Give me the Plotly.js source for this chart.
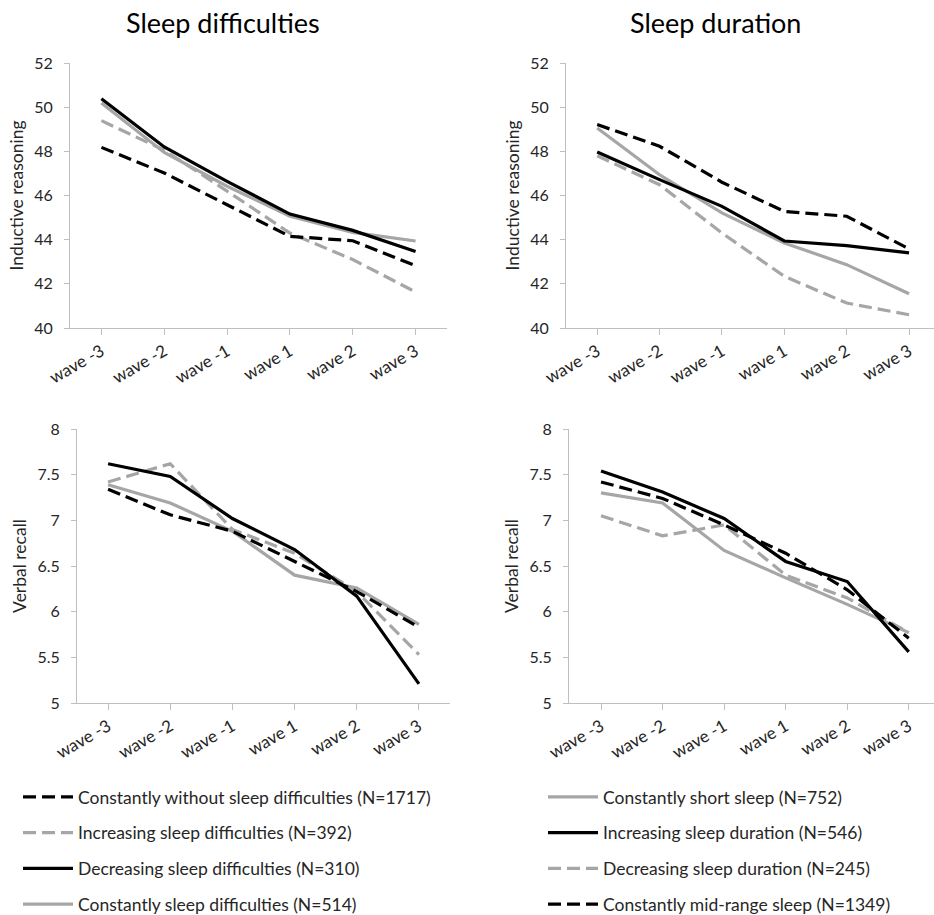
<!DOCTYPE html>
<html>
<head>
<meta charset="utf-8">
<script src="https://cdn.plot.ly/plotly-3.0.1.min.js"></script>
<style>html,body{margin:0;padding:0;background:#fff;}#chart{width:934px;height:915px;}</style>
</head>
<body>
<div id="chart"></div>
<script>
// ---------- data ----------
const waves = ['wave -3', 'wave -2', 'wave -1', 'wave 1', 'wave 2', 'wave 3'];

const panelTitles = ['Sleep difficulties', 'Sleep duration'];
const yTitles = ['Inductive reasoning', 'Verbal recall'];
const reasonTicks = [40, 42, 44, 46, 48, 50, 52];
const recallTicks = [5, 5.5, 6, 6.5, 7, 7.5, 8];
const recallTickText = ['5', '5.5', '6', '6.5', '7', '7.5', '8'];

const diffNames = [
  'Constantly without sleep difficulties (N=1717)',
  'Increasing sleep difficulties (N=392)',
  'Decreasing sleep difficulties (N=310)',
  'Constantly sleep difficulties (N=514)'
];
const durNames = [
  'Constantly short sleep (N=752)',
  'Increasing sleep duration (N=546)',
  'Decreasing sleep duration (N=245)',
  'Constantly mid-range sleep (N=1349)'
];

// Sleep difficulties – inductive reasoning
const diffReasonWithout    = [48.18, 47.02, 45.58, 44.15, 43.95, 42.82];
const diffReasonIncreasing = [49.39, 48.05, 46.20, 44.30, 43.10, 41.63];
const diffReasonDecreasing = [50.38, 48.20, 46.64, 45.16, 44.42, 43.46];
const diffReasonConstant   = [50.19, 47.95, 46.42, 45.06, 44.33, 43.94];

// Sleep difficulties – verbal recall
const diffRecallWithout    = [7.34, 7.06, 6.88, 6.55, 6.22, 5.83];
const diffRecallIncreasing = [7.42, 7.62, 6.90, 6.64, 6.22, 5.53];
const diffRecallDecreasing = [7.62, 7.48, 7.02, 6.68, 6.17, 5.21];
const diffRecallConstant   = [7.39, 7.19, 6.88, 6.40, 6.26, 5.86];

// Sleep duration – inductive reasoning
const durReasonShort      = [49.06, 46.94, 45.21, 43.85, 42.87, 41.55];
const durReasonIncreasing = [47.97, 46.72, 45.51, 43.94, 43.73, 43.40];
const durReasonDecreasing = [47.80, 46.49, 44.30, 42.34, 41.13, 40.60];
const durReasonMid        = [49.21, 48.23, 46.60, 45.28, 45.06, 43.58];

// Sleep duration – verbal recall
const durRecallShort      = [7.30, 7.19, 6.67, 6.37, 6.08, 5.77];
const durRecallIncreasing = [7.54, 7.31, 7.02, 6.55, 6.33, 5.56];
const durRecallDecreasing = [7.05, 6.83, 6.95, 6.40, 6.15, 5.77];
const durRecallMid        = [7.42, 7.24, 6.95, 6.64, 6.24, 5.71];

// ---------- styles ----------
const BLACK = '#000000';
const GREY = '#a6a6a6';
const AXIS = '#bfbfbf';
const FONT = 'Lato, "Open Sans", sans-serif';
const DASH = '13px,6px';
const W = 3.2;

function tr(y, name, color, dash, xa, ya, legend, show, rank) {
  return {
    x: waves, y: y, name: name, type: 'scatter', mode: 'lines',
    line: {color: color, width: W, dash: dash},
    xaxis: xa, yaxis: ya, legend: legend, showlegend: show,
    legendgroup: name, legendrank: rank, hoverinfo: 'skip'
  };
}

const data = [
  // top-left
  tr(diffReasonConstant,   diffNames[3], GREY,  'solid', 'x',  'y',  'legend', true, 4),
  tr(diffReasonIncreasing, diffNames[1], GREY,  DASH,    'x',  'y',  'legend', true, 2),
  tr(diffReasonWithout,    diffNames[0], BLACK, DASH,    'x',  'y',  'legend', true, 1),
  tr(diffReasonDecreasing, diffNames[2], BLACK, 'solid', 'x',  'y',  'legend', true, 3),
  // bottom-left
  tr(diffRecallConstant,   diffNames[3], GREY,  'solid', 'x3', 'y3', 'legend', false, 4),
  tr(diffRecallIncreasing, diffNames[1], GREY,  DASH,    'x3', 'y3', 'legend', false, 2),
  tr(diffRecallWithout,    diffNames[0], BLACK, DASH,    'x3', 'y3', 'legend', false, 1),
  tr(diffRecallDecreasing, diffNames[2], BLACK, 'solid', 'x3', 'y3', 'legend', false, 3),
  // top-right
  tr(durReasonShort,       durNames[0], GREY,  'solid', 'x2', 'y2', 'legend2', true, 1),
  tr(durReasonDecreasing,  durNames[2], GREY,  DASH,    'x2', 'y2', 'legend2', true, 3),
  tr(durReasonMid,         durNames[3], BLACK, DASH,    'x2', 'y2', 'legend2', true, 4),
  tr(durReasonIncreasing,  durNames[1], BLACK, 'solid', 'x2', 'y2', 'legend2', true, 2),
  // bottom-right
  tr(durRecallShort,       durNames[0], GREY,  'solid', 'x4', 'y4', 'legend2', false, 1),
  tr(durRecallDecreasing,  durNames[2], GREY,  DASH,    'x4', 'y4', 'legend2', false, 3),
  tr(durRecallMid,         durNames[3], BLACK, DASH,    'x4', 'y4', 'legend2', false, 4),
  tr(durRecallIncreasing,  durNames[1], BLACK, 'solid', 'x4', 'y4', 'legend2', false, 2)
];

const PW = 934, PH = 915;
function fx(px) { return px / PW; }
function fy(py) { return 1 - py / PH; }

function xaxis(d0, d1, anchor, rng) {
  return {
    type: 'category', domain: [fx(d0), fx(d1)], range: rng, anchor: anchor,
    showgrid: false, zeroline: false, showline: true, linecolor: AXIS, linewidth: 1,
    ticks: 'outside', ticklen: 6, tickcolor: AXIS, tickangle: -30,
    tickfont: {family: FONT, size: 17, color: '#262626'}, fixedrange: true
  };
}
function yaxis(d0, d1, anchor, rng, tv, tt, title) {
  return {
    domain: [fy(d1), fy(d0)], range: rng, anchor: anchor,
    showgrid: false, zeroline: false, showline: true, linecolor: AXIS, linewidth: 1,
    ticks: 'outside', ticklen: 5, tickcolor: AXIS, tickvals: tv, ticktext: tt,
    ticklabelstandoff: 8,
    tickfont: {family: FONT, size: 16, color: '#262626'},
    title: {text: title, font: {family: FONT, size: 17.5, color: '#262626'}, standoff: 6},
    fixedrange: true
  };
}

function legendBox(px) {
  return {
    x: fx(px), y: 0, xanchor: 'left', yanchor: 'bottom',
    bgcolor: 'rgba(0,0,0,0)', borderwidth: 0, traceorder: 'grouped',
    tracegroupgap: 10, itemwidth: 50,
    font: {family: FONT, size: 17.5, color: '#262626'}
  };
}

const layout = {
  width: PW, height: PH,
  margin: {l: 0, r: 0, t: 0, b: 0},
  paper_bgcolor: '#ffffff', plot_bgcolor: '#ffffff',
  font: {family: FONT, color: '#262626'},
  xaxis:  xaxis(70, 447, 'y',  [-0.5, 5.5]),
  yaxis:  yaxis(63, 328, 'x',  [40, 52], reasonTicks, reasonTicks.map(String), yTitles[0]),
  xaxis2: xaxis(566, 934, 'y2', [-0.5, 5.4]),
  yaxis2: yaxis(63, 328, 'x2', [40, 52], reasonTicks, reasonTicks.map(String), yTitles[0]),
  xaxis3: xaxis(77, 450, 'y3', [-0.5, 5.5]),
  yaxis3: yaxis(429, 703, 'x3', [5, 8], recallTicks, recallTickText, yTitles[1]),
  xaxis4: xaxis(569, 934, 'y4', [-0.52, 5.41]),
  yaxis4: yaxis(429, 703, 'x4', [5, 8], recallTicks, recallTickText, yTitles[1]),
  legend: legendBox(18),
  legend2: legendBox(543),
  annotations: [
    {text: panelTitles[0], x: fx(223), y: fy(23), xref: 'paper', yref: 'paper',
     xanchor: 'center', yanchor: 'middle', showarrow: false,
     font: {family: FONT, size: 27, color: '#000000'}},
    {text: panelTitles[1], x: fx(715), y: fy(23), xref: 'paper', yref: 'paper',
     xanchor: 'center', yanchor: 'middle', showarrow: false,
     font: {family: FONT, size: 27, color: '#000000'}}
  ],
  showlegend: true
};

Plotly.newPlot('chart', data, layout, {displayModeBar: false, staticPlot: true}).then(function (gd) {
  // nudge both legend boxes a few pixels lower, as in the reference
  document.querySelectorAll('g.legend, g.legend2').forEach(function (g) {
    const t = g.getAttribute('transform') || '';
    const m = t.match(/translate\(([-\d.]+),\s*([-\d.]+)\)/);
    if (m) g.setAttribute('transform', 'translate(' + m[1] + ',' + (parseFloat(m[2]) + 7) + ')');
  });
});
</script>
</body>
</html>
